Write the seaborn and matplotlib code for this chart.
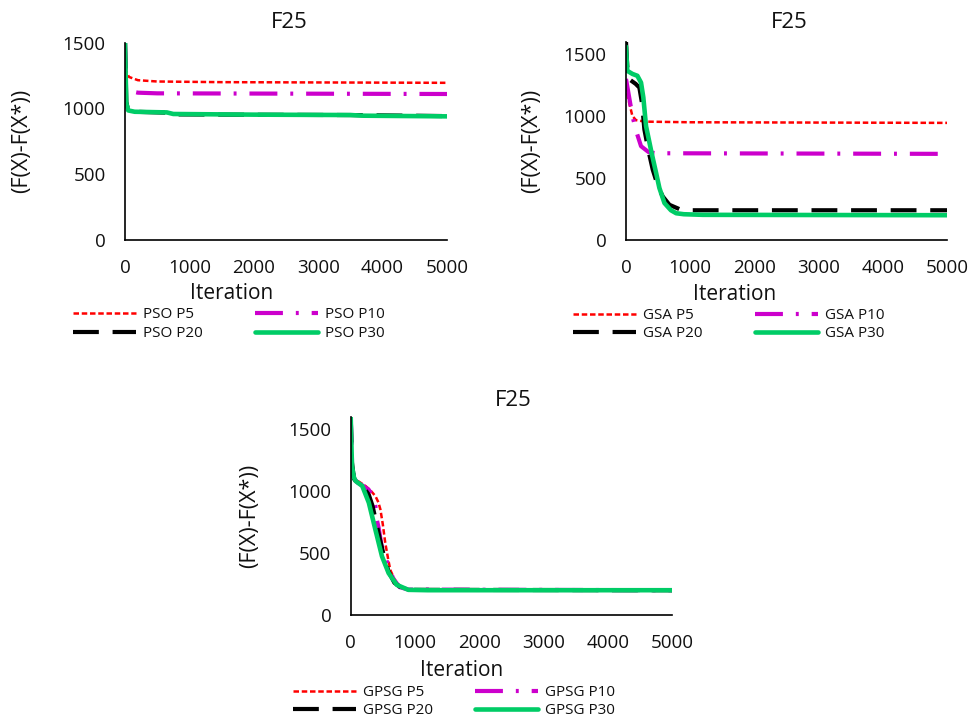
import matplotlib
matplotlib.use("Agg")
import matplotlib.pyplot as plt
import seaborn as sns
import numpy as np
import pandas as pd

# ---------------- data ----------------
x_ticks = [0, 1000, 2000, 3000, 4000, 5000]
y_ticks = [0, 500, 1000, 1500]
title = "F25"
x_label = "Iteration"
y_label = "(F(X)-F(X*))"

# PSO
pso_p5_x = [0, 15, 60, 200, 500, 1500, 5000]
pso_p5_y = [1500, 1290, 1240, 1215, 1205, 1200, 1195]
pso_p10_x = [0, 15, 50, 200, 500, 5000]
pso_p10_y = [1500, 1170, 1135, 1120, 1115, 1110]
pso_p20_x = [0, 20, 50, 150, 650, 750, 2000, 3500, 5000]
pso_p20_y = [1500, 1050, 985, 975, 968, 955, 952, 950, 942]
pso_p30_x = [0, 20, 50, 150, 650, 750, 2000, 3500, 3700, 5000]
pso_p30_y = [1500, 1040, 985, 975, 970, 958, 953, 950, 945, 940]

# GSA
gsa_p5_x = [0, 30, 100, 156, 300, 1000, 5000]
gsa_p5_y = [1250, 1150, 1000, 967, 955, 950, 945]
gsa_p10_x = [0, 50, 100, 170, 234, 350, 460, 5000]
gsa_p10_y = [1300, 1150, 1000, 860, 757, 710, 700, 695]
gsa_p20_x = [0, 20, 50, 150, 208, 250, 286, 350, 416, 500, 573, 677, 860, 1000, 5000]
gsa_p20_y = [1600, 1400, 1297, 1260, 1230, 1100, 892, 720, 568, 430, 351, 284, 243, 240, 240]
gsa_p30_x = [0, 20, 100, 177, 234, 270, 312, 400, 469, 520, 599, 700, 781, 900, 1198, 5000]
gsa_p30_y = [1560, 1365, 1340, 1325, 1270, 1150, 919, 700, 541, 420, 298, 240, 216, 208, 203, 200]

# GPSG
gpsg_p5_x = [0, 20, 50, 100, 230, 300, 384, 430, 462, 500, 538, 580, 615, 680, 743, 846, 1000, 5000]
gpsg_p5_y = [1600, 1250, 1110, 1085, 1041, 1010, 960, 910, 852, 730, 581, 460, 365, 290, 243, 210, 203, 200]
gpsg_p10_x = [0, 20, 50, 100, 200, 282, 340, 384, 410, 436, 480, 538, 600, 666, 760, 900, 5000]
gpsg_p10_y = [1600, 1250, 1105, 1070, 1040, 1010, 960, 879, 760, 700, 560, 473, 370, 290, 225, 205, 200]
gpsg_p20_x = [0, 20, 50, 100, 200, 282, 340, 400, 460, 520, 590, 680, 800, 1000, 5000]
gpsg_p20_y = [1600, 1230, 1100, 1065, 1030, 970, 880, 740, 600, 470, 350, 260, 215, 203, 200]
gpsg_p30_x = [0, 20, 51, 77, 180, 282, 384, 487, 590, 718, 897, 1200, 5000]
gpsg_p30_y = [1600, 1200, 1109, 1081, 1041, 906, 689, 473, 338, 243, 203, 200, 200]

# ---------------- style ----------------
sns.set_style("white")
plt.rcParams['font.family'] = ['Open Sans', 'DejaVu Sans']

W, H = 968, 718
fig = plt.figure(figsize=(W / 100, H / 100), dpi=100)

RED = "#FF0000"
MAG = "#CC00CC"
BLK = "#000000"
GRN = "#00CC66"
TXT = "#111111"

styles = {
    "P5": dict(color=RED, lw=1.8, ls=(0, (2.2, 1.1))),
    "P10": dict(color=MAG, lw=3.0, ls=(0, (6.7, 3.1, 0.7, 3.1))),
    "P20": dict(color=BLK, lw=3.0, ls=(0, (6.2, 3.3))),
    "P30": dict(color=GRN, lw=3.3, ls="-"),
}


def rect(l, t, r, b):
    return [l / W, 1 - b / H, (r - l) / W, (b - t) / H]


panels = [
    dict(name="PSO", rect=(125, 42.7, 447, 240), ylim=1500,
         series={"P5": (pso_p5_x, pso_p5_y), "P10": (pso_p10_x, pso_p10_y),
                 "P20": (pso_p20_x, pso_p20_y), "P30": (pso_p30_x, pso_p30_y)},
         xlab=(232, 293), ylab_x=22, title=(289, 23),
         leg_cols=(73, 255), leg_top=307.5),
    dict(name="GSA", rect=(626, 41.7, 947, 240), ylim=1600,
         series={"P5": (gsa_p5_x, gsa_p5_y), "P10": (gsa_p10_x, gsa_p10_y),
                 "P20": (gsa_p20_x, gsa_p20_y), "P30": (gsa_p30_x, gsa_p30_y)},
         xlab=(735, 295), ylab_x=532, title=(789, 23),
         leg_cols=(573, 755), leg_top=308),
    dict(name="GPSG", rect=(350.7, 416.7, 672, 615), ylim=1600,
         series={"P5": (gpsg_p5_x, gpsg_p5_y), "P10": (gpsg_p10_x, gpsg_p10_y),
                 "P20": (gpsg_p20_x, gpsg_p20_y), "P30": (gpsg_p30_x, gpsg_p30_y)},
         xlab=(462, 670), ylab_x=250, title=(513, 400),
         leg_cols=(293, 475), leg_top=685),
]

for p in panels:
    l, t, r, b = p["rect"]
    ax = fig.add_axes(rect(l, t, r, b))
    handles = {}
    for key in ["P5", "P10", "P20", "P30"]:
        xs, ys = p["series"][key]
        st = styles[key]
        df = pd.DataFrame({"x": xs, "y": ys})
        sns.lineplot(data=df, x="x", y="y", ax=ax, color=st["color"],
                     linewidth=st["lw"], estimator=None, sort=False)
        line = ax.lines[-1]
        line.set_linestyle(st["ls"])
        line.set_dash_capstyle("butt")
        handles[key] = line
    ax.set_xlim(0, 5000)
    ax.set_ylim(0, p["ylim"])
    ax.set_xticks(x_ticks)
    ax.set_yticks(y_ticks)
    ax.tick_params(axis="both", labelsize=13.5, length=5, width=1.2,
                   direction="out", color="black", labelcolor=TXT)
    ax.tick_params(axis="x", pad=9)
    ax.tick_params(axis="y", pad=9)
    for s in ["top", "right"]:
        ax.spines[s].set_visible(False)
    for s in ["left", "bottom"]:
        ax.spines[s].set_color("black")
        ax.spines[s].set_linewidth(1.2)
    ax.set_xlabel("")
    ax.set_ylabel("")
    # labels
    fig.text(p["xlab"][0] / W, 1 - p["xlab"][1] / H, x_label,
             ha="center", va="center", fontsize=15, color=TXT)
    fig.text(p["ylab_x"] / W, 1 - ((t + b) / 2) / H, y_label,
             ha="center", va="center", rotation=90, fontsize=15.5, color=TXT)
    fig.text(p["title"][0] / W, 1 - p["title"][1] / H, title,
             ha="center", va="center", fontsize=16, color=TXT)
    # legends (two columns)
    nm = p["name"]
    cols = [["P5", "P20"], ["P10", "P30"]]
    for ci, colkeys in enumerate(cols):
        leg = fig.legend([handles[k] for k in colkeys],
                         [f"{nm} {k}" for k in colkeys],
                         loc="upper left",
                         bbox_to_anchor=(p["leg_cols"][ci] / W, 1 - p["leg_top"] / H),
                         bbox_transform=fig.transFigure,
                         frameon=False, fontsize=11, handlelength=4.1,
                         handletextpad=0.45, labelspacing=0.22,
                         borderpad=0, borderaxespad=0)
        for txt in leg.get_texts():
            txt.set_color(TXT)

fig.savefig("out.png", dpi=100)
